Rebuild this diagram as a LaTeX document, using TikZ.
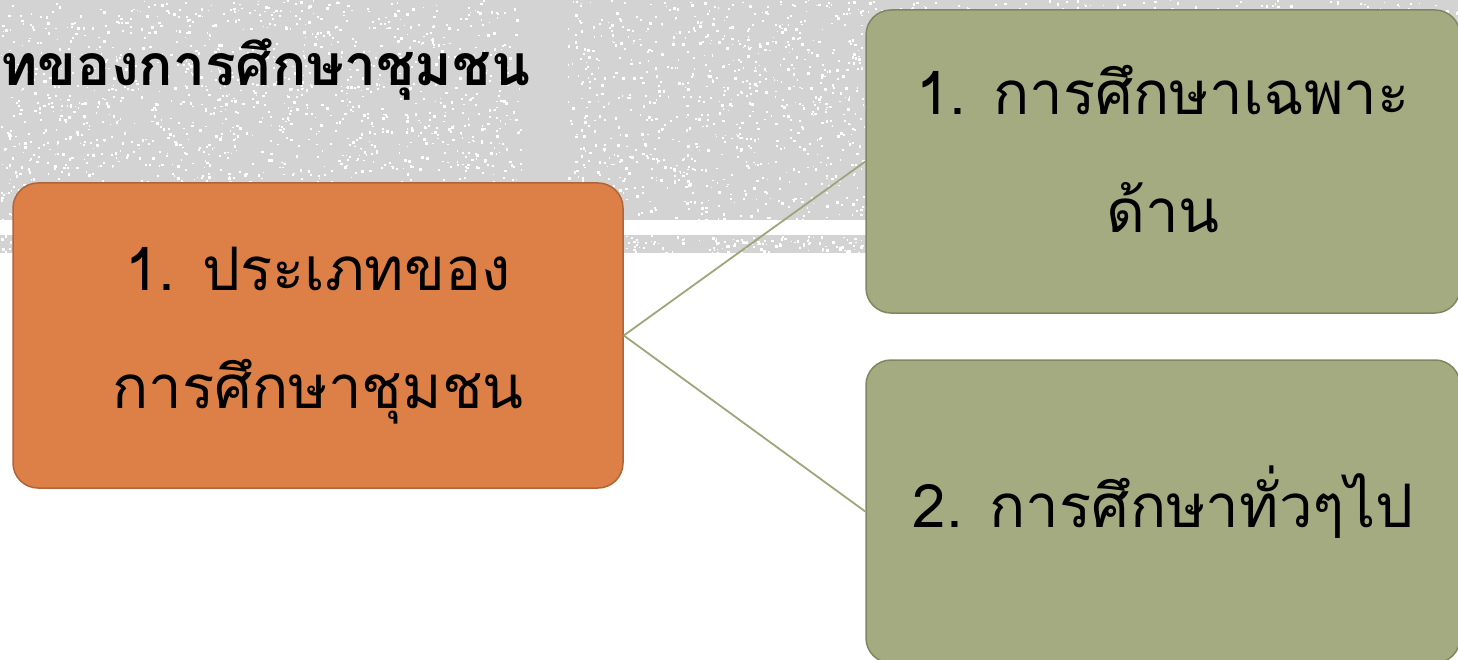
\documentclass[tikz,border=0pt]{standalone}
\usepackage{fontspec}
\newfontfamily\thaifont[Script=Thai]{Loma}
\definecolor{bandgrey}{HTML}{D3D3D3}
\definecolor{boxorange}{HTML}{DD8047}
\definecolor{edgeorange}{HTML}{B0643A}
\definecolor{boxgreen}{HTML}{A5AB81}
\definecolor{edgegreen}{HTML}{80875F}
\definecolor{linkgreen}{HTML}{9CA67A}
\begin{document}
\begin{tikzpicture}[x=1pt,y=-1pt,
  topic/.style={shape=rectangle,rounded corners=25pt,inner sep=0pt,align=center,line width=1.5pt,
    font={\thaifont\fontsize{60}{118}\selectfont}},
  topicO/.style={topic,fill=boxorange,draw=edgeorange,minimum width=610pt,minimum height=305pt},
  topicG/.style={topic,fill=boxgreen,draw=edgegreen,minimum width=594pt,minimum height=303pt},
  link/.style={draw=linkgreen,line width=1.8pt}]
\def\bw{1458};
\def\bh{660};

\useasboundingbox (0,0) rectangle (\bw,\bh);

% textured band behind the title
\fill[bandgrey] (0,0) rectangle (\bw,220);
\fill[bandgrey] (0,235) rectangle (866,253);
\pgfmathsetseed{11}
\foreach \i in {1,...,4200}{
  \pgfmathsetmacro{\px}{rnd*\bw}
  \pgfmathsetmacro{\py}{rnd*220}
  \pgfmathsetmacro{\ds}{1.2+rnd*1.6}
  \fill[white] (\px,\py) rectangle ++(\ds,\ds);
}
\foreach \i in {1,...,380}{
  \pgfmathsetmacro{\px}{rnd*866}
  \pgfmathsetmacro{\py}{235+rnd*17}
  \pgfmathsetmacro{\ds}{1.2+rnd*1.6}
  \fill[white] (\px,\py) rectangle ++(\ds,\ds);
}
\fill[bandgrey] (522,0) rectangle (568,220);

\node[anchor=base west,inner sep=0pt,font={\thaifont\bfseries\fontsize{57}{62}\selectfont}] (title) at (0,86) {ทของการศึกษาชุมชน};

\node[topicO] (kind) at (318,335.5) {1. ประเภทของ\\การศึกษาชุมชน};
\node[topicG,text depth=26pt] (part) at (1163,161.5) {1. การศึกษาเฉพาะ\\ด้าน};
\node[topicG,text depth=30pt] (all) at (1163,511.5) {2. การศึกษาทั่วๆไป};

\draw[link] (kind.east) -- (part.west);
\draw[link] (kind.east) -- (all.west);
\end{tikzpicture}
\end{document}
